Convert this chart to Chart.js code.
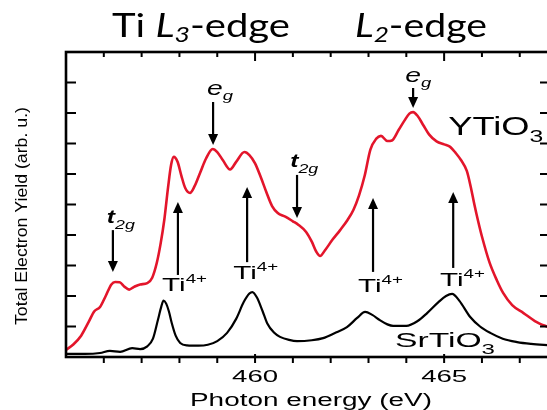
<!DOCTYPE html>
<html>
<head>
<meta charset="utf-8">
<script src="https://cdn.jsdelivr.net/npm/chart.js@4.4.0/dist/chart.umd.min.js"></script>
<style>
  html, body { margin: 0; padding: 0; background: #fff; overflow: hidden; }
  #wrap { width: 556px; height: 410px; }
</style>
</head>
<body>
<div id="wrap"><canvas id="xas-canvas" width="556" height="410"></canvas></div>
<script>
// ========== Data
let ytioEnergy = [455.0, 455.2, 455.4, 455.6, 455.75, 455.9, 456.05, 456.2, 456.3, 456.42, 456.55, 456.67, 456.8, 456.96, 457.15, 457.28, 457.4, 457.5, 457.6, 457.7, 457.78, 457.85, 457.95, 458.05, 458.15, 458.28, 458.4, 458.55, 458.7, 458.88, 459.0, 459.15, 459.34, 459.5, 459.72, 459.85, 460.0, 460.15, 460.3, 460.45, 460.6, 460.8, 461.0, 461.15, 461.35, 461.5, 461.62, 461.72, 461.85, 462.05, 462.25, 462.45, 462.6, 462.75, 462.9, 463.05, 463.2, 463.33, 463.5, 463.62, 463.8, 463.95, 464.08, 464.18, 464.3, 464.45, 464.6, 464.8, 465.0, 465.16, 465.3, 465.45, 465.6, 465.7, 465.8, 465.9, 466.0, 466.2, 466.4, 466.56, 466.8, 467.1, 467.4, 467.8];
let ytioYield = [0.23, 0.42, 0.7, 1.15, 1.5, 1.64, 2.0, 2.38, 2.46, 2.45, 2.3, 2.21, 2.3, 2.38, 2.42, 2.6, 3.08, 3.7, 4.5, 5.57, 6.3, 6.56, 6.4, 5.95, 5.55, 5.38, 5.6, 6.05, 6.5, 6.82, 6.72, 6.45, 6.15, 6.4, 6.72, 6.62, 6.35, 5.9, 5.4, 4.95, 4.72, 4.6, 4.45, 4.33, 4.1, 3.78, 3.45, 3.31, 3.5, 3.85, 4.16, 4.5, 4.82, 5.3, 5.95, 6.8, 7.15, 7.25, 7.08, 7.1, 7.45, 7.75, 7.98, 8.03, 7.9, 7.6, 7.3, 7.07, 6.97, 6.89, 6.7, 6.45, 6.1, 5.6, 5.0, 4.45, 3.95, 3.1, 2.5, 2.1, 1.7, 1.44, 1.18, 0.95];

let stoEnergy = [455.0, 455.5, 455.9, 456.16, 456.43, 456.75, 456.96, 457.15, 457.3, 457.43, 457.52, 457.58, 457.65, 457.72, 457.8, 457.9, 458.02, 458.2, 458.5, 458.75, 459.0, 459.26, 459.5, 459.7, 459.85, 459.93, 460.05, 460.2, 460.32, 460.5, 460.66, 460.9, 461.11, 461.5, 461.8, 462.1, 462.43, 462.7, 462.91, 463.1, 463.3, 463.5, 463.65, 464.0, 464.3, 464.55, 464.85, 465.05, 465.21, 465.4, 465.69, 465.95, 466.22, 466.55, 466.93, 467.3, 467.8];
let stoYield = [0.1, 0.1, 0.13, 0.2, 0.17, 0.29, 0.26, 0.35, 0.6, 1.21, 1.65, 1.85, 1.75, 1.5, 1.1, 0.7, 0.46, 0.38, 0.37, 0.4, 0.52, 0.79, 1.25, 1.8, 2.08, 2.13, 1.95, 1.5, 1.11, 0.8, 0.66, 0.56, 0.52, 0.55, 0.62, 0.78, 0.98, 1.28, 1.48, 1.38, 1.21, 1.07, 1.02, 1.02, 1.18, 1.44, 1.8, 2.0, 2.07, 1.85, 1.31, 1.0, 0.79, 0.6, 0.49, 0.43, 0.38];

let xMajorTicks = [460, 465];
let xMinorTicks = [456, 457, 458, 459, 461, 462, 463, 464, 466, 467];
let yTicks = [1, 2, 3, 4, 5, 6, 7, 8, 9];

// ========== Colors / fonts
let redColor = '#e3152b';
let inkColor = '#000000';
let helv = 'Liberation Sans, Arial, sans-serif';
let titleFont = 'Lato, sans-serif';

// ========== Annotations (data coordinates)
let upArrows = [   // Ti4+ arrows: energy, from, to
    [457.96, 2.69, 5.08],
    [459.79, 3.11, 5.57],
    [463.12, 2.79, 5.21],
    [465.24, 2.92, 5.41]
];
let ti4Labels = [  // left energy, baseline value
    [457.54, 2.16],
    [459.42, 2.56],
    [462.72, 2.13],
    [464.89, 2.33]
];
let downArrows = [
    [456.24, 4.16, 2.79],
    [461.11, 5.97, 4.56],
    [458.89, 8.36, 6.95],
    [464.18, 8.82, 8.16]
];
let t2gLabels = [[456.08, 4.39], [460.93, 6.23]];
let egLabels = [[458.73, 8.59], [463.97, 9.02]];

// draw a run of text pieces, squeezed / stretched to a given width
function richText(ctx, parts, x, y, width, align) {
    ctx.save();
    let total = 0;
    parts.forEach(p => { ctx.font = p[1]; total += ctx.measureText(p[0]).width; });
    let sx = width ? width / total : 1;
    let x0 = x;
    if (align === 'center') x0 = x - total * sx / 2;
    ctx.translate(x0, y);
    ctx.scale(sx, 1);
    ctx.textAlign = 'left';
    ctx.textBaseline = 'alphabetic';
    let cx = 0;
    parts.forEach(p => {
        ctx.font = p[1];
        ctx.fillText(p[0], cx, p[2] || 0);
        cx += ctx.measureText(p[0]).width;
    });
    ctx.restore();
}

function arrow(ctx, x, y1, y2) {
    let dir = y2 < y1 ? -1 : 1;
    ctx.beginPath();
    ctx.moveTo(x, y1);
    ctx.lineTo(x, y2 - dir * 9);
    ctx.lineWidth = 2.2;
    ctx.stroke();
    ctx.beginPath();
    ctx.moveTo(x, y2);
    ctx.lineTo(x - 5, y2 - dir * 11);
    ctx.lineTo(x + 5, y2 - dir * 11);
    ctx.closePath();
    ctx.fill();
}

// @ ========== Frame, ticks, labels
let framePlugin = {
    id: 'frame',
    afterDraw(chart) {
        let ctx = chart.ctx;
        let xs = chart.scales.x;
        let ys = chart.scales.y;
        let a = chart.chartArea;
        ctx.save();
        ctx.strokeStyle = inkColor;
        ctx.fillStyle = inkColor;

        // box
        ctx.lineWidth = 2.6;
        ctx.strokeRect(a.left, a.top, a.right - a.left, a.bottom - a.top);

        // x ticks
        ctx.lineWidth = 2;
        xMinorTicks.forEach(v => {
            let px = xs.getPixelForValue(v);
            ctx.beginPath();
            ctx.moveTo(px, a.bottom); ctx.lineTo(px, a.bottom + 6);
            ctx.moveTo(px, a.top); ctx.lineTo(px, a.top + 5);
            ctx.stroke();
        });
        xMajorTicks.forEach(v => {
            let px = xs.getPixelForValue(v);
            ctx.beginPath();
            ctx.moveTo(px, a.bottom - 3); ctx.lineTo(px, a.bottom + 6);
            ctx.moveTo(px, a.top); ctx.lineTo(px, a.top + 9);
            ctx.stroke();
            richText(ctx, [[String(v), '16px ' + helv]], px, a.bottom + 25, 46, 'center');
        });
        // y ticks
        yTicks.forEach(v => {
            let py = ys.getPixelForValue(v);
            ctx.beginPath();
            ctx.moveTo(a.left, py); ctx.lineTo(a.left + 10, py);
            ctx.moveTo(a.right, py); ctx.lineTo(a.right - 10, py);
            ctx.stroke();
        });

        // axis titles
        richText(ctx, [['Photon energy (eV)', '18px ' + helv]], 311, 406, 242, 'center');
        ctx.save();
        ctx.translate(27, 216);
        ctx.rotate(-Math.PI / 2);
        richText(ctx, [['Total Electron Yield (arb. u.)', '17px ' + helv]], 0, 0, 218, 'center');
        ctx.restore();

        // edge titles
        richText(ctx, [
            ['Ti ', '33px ' + titleFont],
            ['L', 'italic 33px ' + titleFont],
            ['3', 'italic 22px ' + titleFont, 5],
            ['-edge', '33px ' + titleFont]
        ], 112, 37, 178);
        richText(ctx, [
            ['L', 'italic 33px ' + titleFont],
            ['2', 'italic 22px ' + titleFont, 5],
            ['-edge', '33px ' + titleFont]
        ], 355, 37, 132);

        // arrows
        upArrows.concat(downArrows).forEach(d => {
            arrow(ctx, xs.getPixelForValue(d[0]), ys.getPixelForValue(d[1]), ys.getPixelForValue(d[2]));
        });

        // Ti4+ labels
        ti4Labels.forEach(d => {
            richText(ctx, [
                ['Ti', '19px ' + helv],
                ['4+', '12px ' + helv, -8]
            ], xs.getPixelForValue(d[0]), ys.getPixelForValue(d[1]), 45);
        });
        // t2g / eg labels
        t2gLabels.forEach(d => {
            richText(ctx, [
                ['t', 'bold italic 18px ' + helv],
                ['2g', 'italic 13px ' + helv, 6]
            ], xs.getPixelForValue(d[0]), ys.getPixelForValue(d[1]), 28);
        });
        egLabels.forEach(d => {
            richText(ctx, [
                ['e', 'italic 20px ' + helv],
                ['g', 'italic 13px ' + helv, 5]
            ], xs.getPixelForValue(d[0]), ys.getPixelForValue(d[1]), 26);
        });

        // sample labels
        richText(ctx, [
            ['YTiO', '25px ' + helv],
            ['3', '17px ' + helv, 7]
        ], xs.getPixelForValue(465.11), ys.getPixelForValue(7.28), 95);
        richText(ctx, [
            ['SrTiO', '21px ' + helv],
            ['3', '15px ' + helv, 7]
        ], xs.getPixelForValue(463.7), ys.getPixelForValue(0.33), 100);

        ctx.restore();
    }
};

function toPoints(xList, yList) {
    return xList.map((x, i) => ({ x: x, y: yList[i] }));
}

var xasCanvas = document.getElementById('xas-canvas');
var xasChart = new Chart(xasCanvas, {
    type: 'line',
    data: {
        datasets: [
            {
                label: 'YTiO3',
                data: toPoints(ytioEnergy, ytioYield),
                borderColor: redColor,
                borderWidth: 2.6,
                pointRadius: 0,
                cubicInterpolationMode: 'monotone'
            },
            {
                label: 'SrTiO3',
                data: toPoints(stoEnergy, stoYield),
                borderColor: inkColor,
                borderWidth: 2.2,
                pointRadius: 0,
                cubicInterpolationMode: 'monotone'
            }
        ]
    },
    options: {
        responsive: false,
        animation: false,
        layout: { padding: { left: 66, top: 52, right: 6, bottom: 53 } },
        plugins: { legend: { display: false }, tooltip: { enabled: false } },
        scales: {
            x: { type: 'linear', min: 455, max: 467.8, display: false },
            y: { min: 0, max: 10, display: false }
        }
    },
    plugins: [framePlugin]
});
</script>
</body>
</html>
